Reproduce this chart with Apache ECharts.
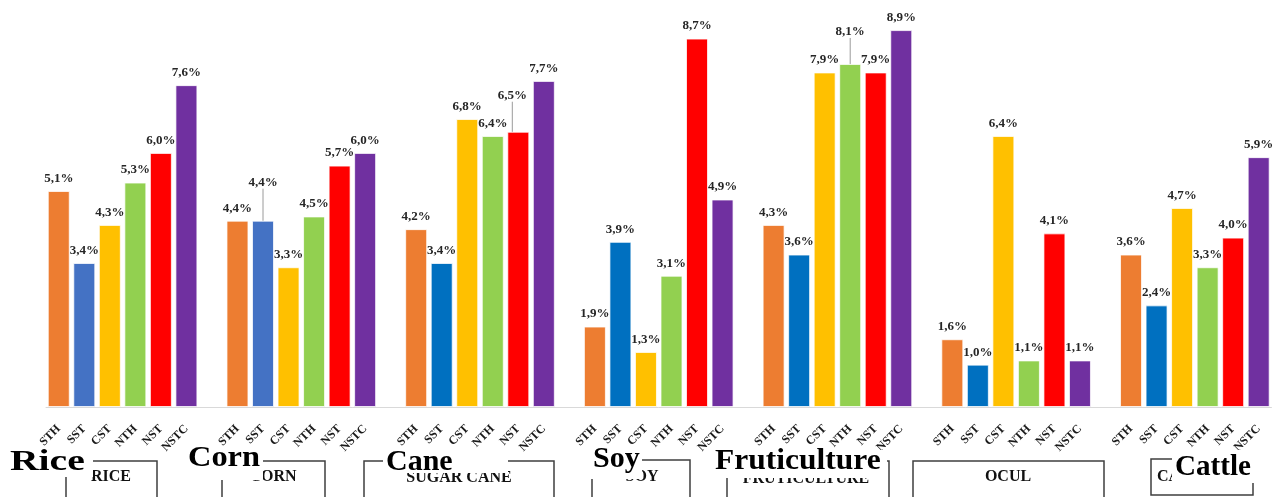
<!DOCTYPE html>
<html>
<head>
<meta charset="utf-8">
<script src="https://cdn.jsdelivr.net/npm/echarts@6/dist/echarts.min.js"></script>
<style>
html,body{margin:0;padding:0;background:#fff;}
#chart{width:1277px;height:497px;}
</style>
</head>
<body>
<div id="chart"></div>
<script>
// ---- data ----
const groups = ['Rice', 'Corn', 'Cane', 'Soy', 'Fruticulture', 'OCUL', 'Cattle'];
const groupBoxLabels = ['RICE', 'CORN', 'SUGAR CANE', 'SOY', 'FRUTICULTURE', 'OCUL', 'CATTLE'];
const types = ['STH', 'SST', 'CST', 'NTH', 'NST', 'NSTC'];
const STH  = [5.1, 4.4, 4.2, 1.9, 4.3, 1.6, 3.6];
const SST  = [3.4, 4.4, 3.4, 3.9, 3.6, 1.0, 2.4];
const CST  = [4.3, 3.3, 6.8, 1.3, 7.9, 6.4, 4.7];
const NTH  = [5.3, 4.5, 6.4, 3.1, 8.1, 1.1, 3.3];
const NST  = [6.0, 5.7, 6.5, 8.7, 7.9, 4.1, 4.0];
const NSTC = [7.6, 6.0, 7.7, 4.9, 8.9, 1.1, 5.9];
const values = [STH, SST, CST, NTH, NST, NSTC];

// ---- styling ----
const colors = ['#ED7D31', '#4472C4', '#FFC000', '#92D050', '#FF0000', '#7030A0'];
const sstDark = '#0070C0';
const serif = '"Liberation Serif", "Times New Roman", serif';
// labels pulled up with a leader line: key "group-type" -> [dx, dy]
const leaders = { '1-1': [0, -26], '2-4': [-6, -24], '4-3': [0, -20] };

const slotsPerGroup = types.length + 1;
const xData = [];
groups.forEach((gname, g) => {
  types.forEach(t => xData.push(t));
  if (g < groups.length - 1) xData.push('');
});

const fmt = v => v.toFixed(1).replace('.', ',') + '%';

const series = types.map((t, i) => {
  const data = new Array(xData.length).fill('-');
  values[i].forEach((v, g) => {
    const item = { value: v };
    if (i === 1 && g >= 2) item.itemStyle = { color: sstDark };
    if (leaders[g + '-' + i]) {
      item.labelLine = { show: true, lineStyle: { color: '#9a9a9a', width: 1 } };
    }
    data[g * slotsPerGroup + i] = item;
  });
  return {
    name: t,
    type: 'bar',
    barWidth: 22,
    barGap: '-100%',
    itemStyle: { color: colors[i], borderColor: 'rgba(255,255,255,0.75)', borderWidth: 1 },
    label: {
      show: true,
      position: 'top',
      distance: 6,
      formatter: p => fmt(p.value),
      fontFamily: serif,
      fontWeight: 'bold',
      fontSize: 13,
      color: '#262626'
    },
    labelLayout: function (params) {
      const g = Math.floor(params.dataIndex / slotsPerGroup);
      const key = g + '-' + i;
      if (leaders[key]) return { dx: leaders[key][0], dy: leaders[key][1] };
      return {};
    },
    data: data
  };
});

// group annotation boxes (decoration under the axis)
const boxes = [
  { x: 66, y: 461, w: 91, h: 60, tx: 111, ty: 477, bg: [6, 450, 87, 27], title: [10, 462, 1.32] },
  { x: 222, y: 461, w: 103, h: 60, tx: 273, ty: 477, bg: [184, 448, 79, 32], title: [188, 458, 1.08] },
  { x: 364, y: 461, w: 190, h: 60, tx: 459, ty: 478, bg: [383, 450, 125, 23], title: [386, 462, 1.0] },
  { x: 592, y: 460, w: 98, h: 60, tx: 642, ty: 477, bg: [590, 450, 52, 29], title: [593, 459, 1.0] },
  { x: 727, y: 461, w: 162, h: 60, tx: 806, ty: 479, bg: [712, 450, 175, 28], title: [715, 461, 1.05] },
  { x: 913, y: 461, w: 191, h: 60, tx: 1008, ty: 477, bg: null, title: null },
  { x: 1151, y: 459, w: 102, h: 36, tx: 1157, ty: 477, bg: [1172, 450, 84, 33], title: [1175, 467, 0.97], left: true }
];

const graphic = [];
boxes.forEach((b, g) => {
  graphic.push({
    type: 'rect', z: 10, silent: true,
    shape: { x: b.x, y: b.y, width: b.w, height: b.h },
    style: { fill: 'none', stroke: '#3f3f3f', lineWidth: 1.5 }
  });
  graphic.push({
    type: 'text', z: 11, silent: true, x: b.tx, y: b.ty,
    style: {
      text: groupBoxLabels[g], font: 'bold 16px ' + serif, fill: '#111',
      align: b.left ? 'left' : 'center', verticalAlign: 'middle'
    }
  });
  if (b.bg) {
    graphic.push({
      type: 'rect', z: 12, silent: true,
      shape: { x: b.bg[0], y: b.bg[1], width: b.bg[2], height: b.bg[3] },
      style: { fill: '#fff' }
    });
  }
  if (b.title) {
    graphic.push({
      type: 'text', z: 13, silent: true, x: b.title[0], y: b.title[1], scaleX: b.title[2],
      style: {
        text: groups[g], x: 0, y: 0, font: 'bold 30px ' + serif, fill: '#000',
        align: 'left', verticalAlign: 'middle'
      }
    });
  }
});

const slotW = 25.53;
const chart = echarts.init(document.getElementById('chart'), null, { renderer: 'canvas' });
chart.setOption({
  animation: false,
  backgroundColor: '#fff',
  grid: { left: 46, top: 0.44, width: slotW * xData.length, height: 406.56, containLabel: false },
  xAxis: {
    type: 'category',
    data: xData,
    axisTick: { show: false },
    axisLine: { lineStyle: { color: '#d9d9d9', width: 1 } },
    axisLabel: {
      interval: 0, rotate: 45, margin: 20,
      fontFamily: serif, fontWeight: 'bold', fontSize: 12, color: '#1a1a1a'
    }
  },
  yAxis: { type: 'value', min: 0, max: 9.6, show: false, splitLine: { show: false } },
  series: series,
  graphic: graphic
});
</script>
</body>
</html>
